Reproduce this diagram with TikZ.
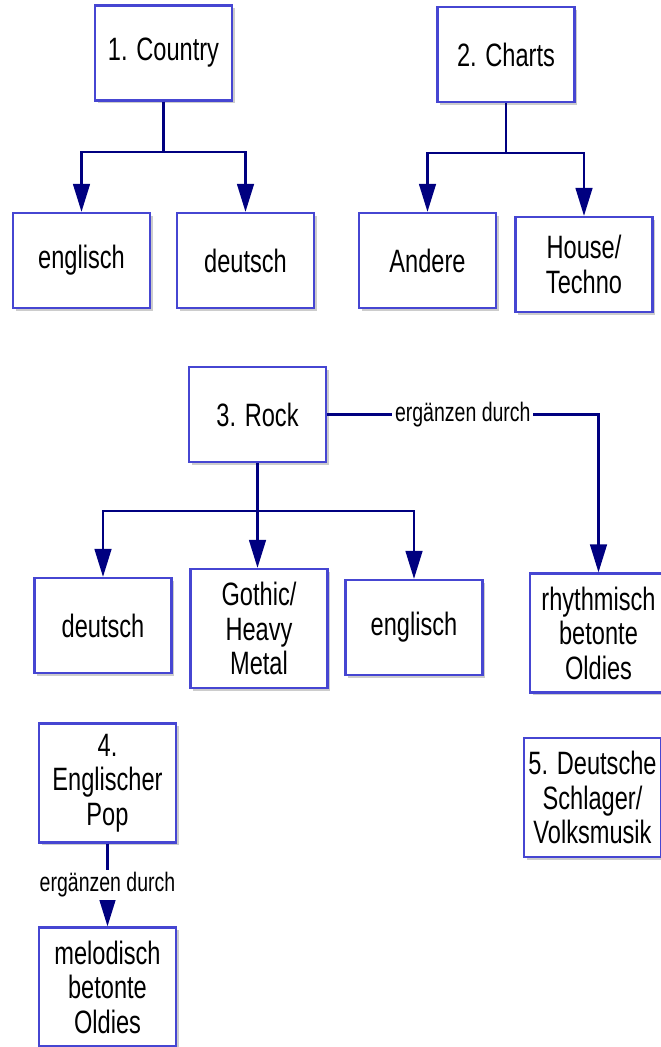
\documentclass[tikz,border=0pt]{standalone}
\usepackage{fontspec}
\setmainfont{Liberation Sans}[FakeStretch=0.73]
\usetikzlibrary{positioning,shadows,arrows.meta}
\definecolor{boxblue}{RGB}{70,70,210}
\definecolor{linknavy}{RGB}{0,0,128}

\begin{document}
\begin{tikzpicture}[x=0.025cm,y=-0.025cm,
	genre/.style={draw=boxblue,line width=1.6pt,fill=white,minimum width=3.425cm,minimum height=2.375cm,align=center,inner sep=1pt,font=\fontsize{23pt}{24.5pt}\selectfont,drop shadow={shadow xshift=2pt,shadow yshift=-2pt,opacity=0.4}},
	tall/.style={minimum height=2.975cm},
	link/.style={draw=linknavy,line width=1.5pt,-{Triangle[width=0.42cm,length=0.7cm]}},
	linklabel/.style={fill=white,inner sep=2pt,font=\fontsize{19pt}{20pt}\selectfont}]
		\useasboundingbox (0,0) rectangle (660,1047);
		
		\node[genre] (country) at (163.5,53) {1. Country};
		\node[genre] (en1) at (81.5,260.5) {englisch};
		\node[genre] (de1) at (245.5,260.5) {deutsch};
		\node[genre] (charts) at (506,54.5) {2. Charts};
		\node[genre] (andere) at (427.5,260.5) {Andere};
		\node[genre] (house) at (584,264.5) {House/\\Techno};
		\node[genre] (rock) at (257.5,414.5) {3. Rock};
		\node[genre] (de2) at (103,625.5) {deutsch};
		\node[genre,tall] (gothic) at (259,628.5) {Gothic/\\Heavy\\Metal};
		\node[genre] (en2) at (414,627.5) {englisch};
		\node[genre,tall] (rhythm) at (598.5,633) {rhythmisch\\betonte\\Oldies};
		\node[genre,tall] (pop) at (107.5,783) {4.\\Englischer\\Pop};
		\node[genre,tall] (melo) at (107.5,987) {melodisch\\betonte\\Oldies};
		\node[genre,tall] (schlager) at (592.5,797.5) {5. Deutsche\\Schlager/\\Volksmusik};
		
		\draw[link] (country.south) -- ++(0,50) -| (en1.north);
		\draw[link] (country.south) ++(0,50) -| (de1.north);
		\draw[link] (charts.south) -- ++(0,50) -| (andere.north);
		\draw[link] (charts.south) ++(0,50) -| (house.north);
		\draw[link] (rock.south) -- ++(0,48) -| (de2.north);
		\draw[link] (rock.south) ++(0,48) -| (en2.north);
		\draw[link] (rock.south) -- (rock.south |- gothic.north);
		\draw[link] (rock.east) -| node[linklabel,pos=0.25] {ergänzen durch} (rhythm.north);
		\draw[link] (pop) -- node[linklabel] {ergänzen durch} (melo);
	\end{tikzpicture}
\end{document}
